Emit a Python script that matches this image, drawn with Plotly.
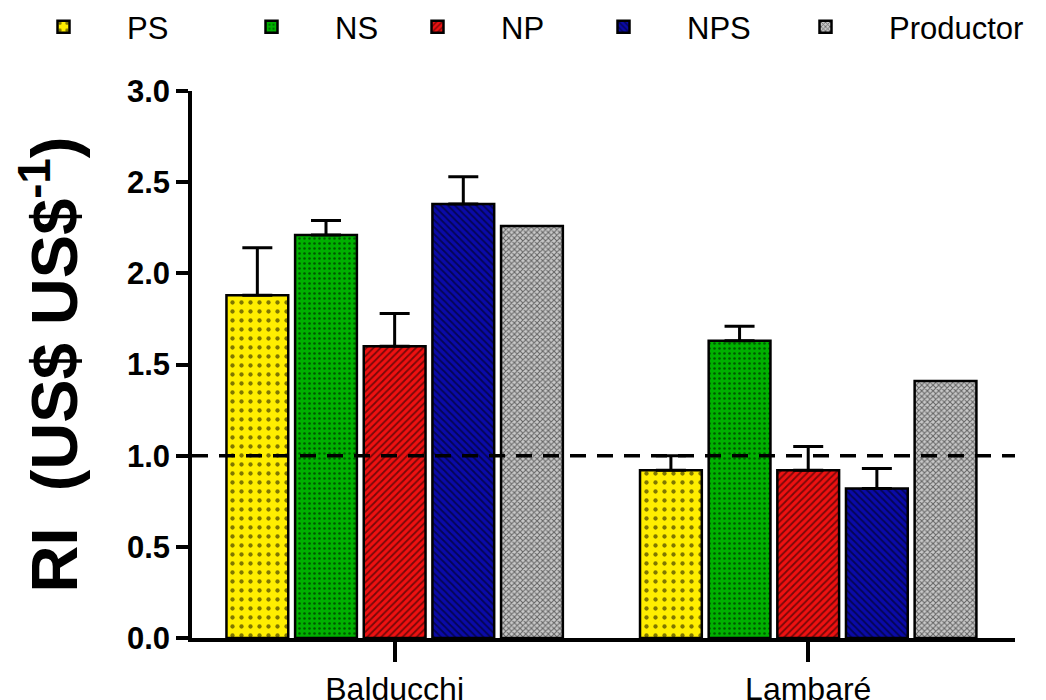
import plotly.graph_objects as go

categories = ["Balducchi", "Lambaré"]
series_names = ["PS", "NS", "NP", "NPS", "Productor"]
values = {
    "PS": [1.88, 0.92],
    "NS": [2.21, 1.63],
    "NP": [1.60, 0.92],
    "NPS": [2.38, 0.82],
    "Productor": [2.26, 1.41],
}
errors = {
    "PS": [0.26, 0.08],
    "NS": [0.08, 0.08],
    "NP": [0.18, 0.13],
    "NPS": [0.15, 0.11],
    "Productor": [0.0, 0.0],
}
y_ticks = [0.0, 0.5, 1.0, 1.5, 2.0, 2.5, 3.0]
reference_value = 1.0

styles = {
    "PS": dict(color="#FFEE00", shape=".", size=9, solidity=0.18),
    "NS": dict(color="#00B000", shape=".", size=5, solidity=0.2),
    "NP": dict(color="#EE1111", shape="/", size=5, solidity=0.35),
    "NPS": dict(color="#0A0AA8", shape="\\", size=5, solidity=0.35),
    "Productor": dict(color="#C8C8C8", shape="x", size=4, solidity=0.45),
}
# legend text left edges (px) in the reference
legend_text_x = [127, 336, 502, 688, 890]

FONT = "Arial, Liberation Sans, sans-serif"
W, H = 1046, 700

fig = go.Figure()
legend_layouts = {}
for i, name in enumerate(series_names):
    st = styles[name]
    has_err = any(e > 0 for e in errors[name])
    lname = "legend" if i == 0 else f"legend{i + 1}"
    fig.add_trace(go.Bar(
        name=name,
        x=categories,
        y=values[name],
        legend=lname,
        marker=dict(
            color=st["color"],
            line=dict(color="black", width=2.5),
            pattern=dict(shape=st["shape"], fgcolor="black", size=st["size"],
                         solidity=st["solidity"]),
        ),
        error_y=dict(type="data", array=errors[name], arrayminus=[0, 0],
                     symmetric=False, color="black", thickness=3, width=15,
                     visible=has_err),
    ))
    legend_layouts[lname] = dict(
        orientation="h", xref="container", yref="container",
        x=max(legend_text_x[i] - 128, 0) / W, y=1.0, xanchor="left", yanchor="top",
        font=dict(size=31, family=FONT, color="black"),
        itemwidth=117, bgcolor="rgba(0,0,0,0)",
    )

fig.add_shape(type="line", xref="paper", x0=0, x1=1, yref="y",
              y0=reference_value, y1=reference_value,
              line=dict(color="black", width=3.5, dash="16px,11px"))

fig.update_layout(
    width=W, height=H,
    paper_bgcolor="white", plot_bgcolor="white",
    margin=dict(l=192, r=31, t=91, b=62, pad=0, autoexpand=False),
    barmode="group", bargap=0.17, bargroupgap=0.1,
    font=dict(family=FONT, color="black"),
    showlegend=True,
    **legend_layouts,
)

fig.update_xaxes(
    range=[-0.49, 1.5], showline=True, linecolor="black", linewidth=3.5,
    ticks="outside", ticklen=20, tickwidth=3.5, tickcolor="black",
    tickfont=dict(size=32, family=FONT, color="black"), showgrid=False,
    zeroline=False,
)
fig.update_yaxes(
    range=[0, 3.0], tickvals=y_ticks, tickformat=".1f",
    showline=True, linecolor="black", linewidth=3.5,
    ticks="outside", ticklen=12, tickwidth=3.5, tickcolor="black",
    tickfont=dict(size=31, family=FONT, color="black", weight="bold"),
    showgrid=False, zeroline=False,
    title=dict(text="<b>RI  (US$ US$<sup>-1</sup>)</b>",
               font=dict(size=65, family=FONT, color="black"), standoff=29),
)

fig.write_html("out.html", config={"displayModeBar": False},
               post_script="document.body.style.margin='0';document.body.style.overflow='hidden';")
